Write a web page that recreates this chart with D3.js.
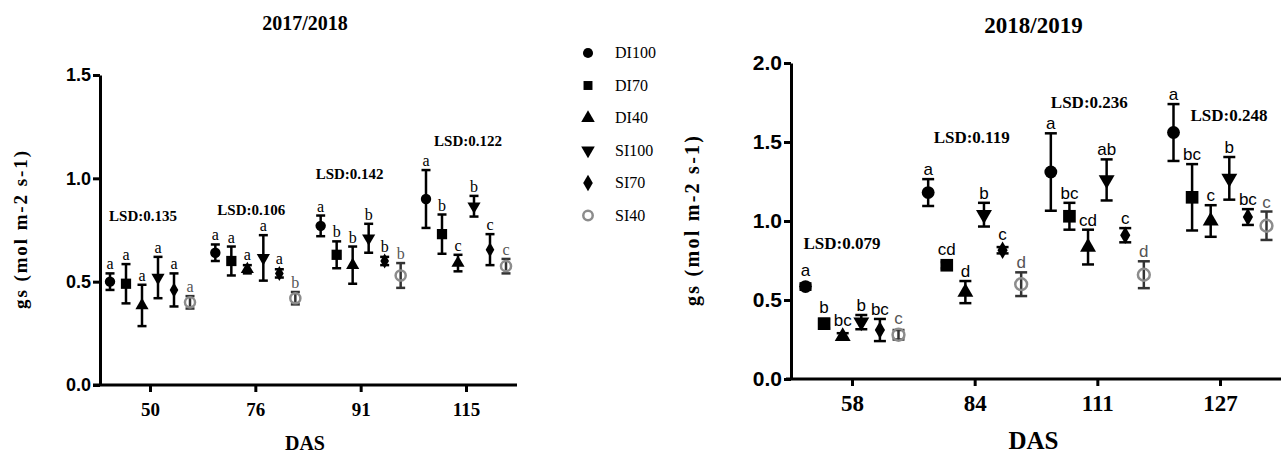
<!DOCTYPE html>
<html>
<head>
<meta charset="utf-8">
<script src="https://cdn.jsdelivr.net/npm/d3@7"></script>
<style>
  body { margin: 0; background: #fff; }
  .serif { font-family: "Liberation Serif", "Times New Roman", serif; font-weight: bold; }
  .ytick text { font-family: "Liberation Sans", Arial, sans-serif; font-weight: bold; }
</style>
</head>
<body>
<div class="container"></div>
<script>
// treatments (legend order)
const treatments = ["DI100", "DI70", "DI40", "SI100", "SI70", "SI40"];

// 2017/2018 season
const das1 = ["50", "76", "91", "115"];
const mean1 = [
  [0.50, 0.64, 0.77, 0.90],   // DI100
  [0.49, 0.60, 0.63, 0.73],   // DI70
  [0.385, 0.56, 0.58, 0.59],  // DI40
  [0.52, 0.615, 0.71, 0.865], // SI100
  [0.46, 0.54, 0.60, 0.655],  // SI70
  [0.40, 0.42, 0.53, 0.575]   // SI40
];
const err1 = [
  [0.04, 0.04, 0.05, 0.14],
  [0.095, 0.07, 0.065, 0.095],
  [0.10, 0.02, 0.09, 0.04],
  [0.10, 0.11, 0.07, 0.05],
  [0.08, 0.02, 0.02, 0.075],
  [0.03, 0.03, 0.06, 0.035]
];
const letters1 = [
  ["a", "a", "a", "a"],
  ["a", "a", "b", "b"],
  ["a", "a", "b", "c"],
  ["a", "a", "b", "b"],
  ["a", "a", "b", "c"],
  ["a", "b", "b", "c"]
];
const lsd1 = ["0.135", "0.106", "0.142", "0.122"];
const yTicks1 = [0.0, 0.5, 1.0, 1.5];

// 2018/2019 season
const das2 = ["58", "84", "111", "127"];
const mean2 = [
  [0.585, 1.18, 1.31, 1.56],
  [0.35, 0.72, 1.03, 1.15],
  [0.27, 0.55, 0.835, 1.00],
  [0.36, 1.04, 1.26, 1.27],
  [0.31, 0.815, 0.91, 1.025],
  [0.28, 0.60, 0.66, 0.97]
];
const err2 = [
  [0.02, 0.085, 0.245, 0.18],
  [0.03, 0.02, 0.085, 0.21],
  [0.02, 0.07, 0.11, 0.10],
  [0.045, 0.075, 0.13, 0.135],
  [0.07, 0.02, 0.045, 0.05],
  [0.03, 0.075, 0.085, 0.09]
];
const letters2 = [
  ["a", "a", "a", "a"],
  ["b", "cd", "bc", "bc"],
  ["bc", "d", "cd", "c"],
  ["b", "b", "ab", "b"],
  ["bc", "c", "c", "bc"],
  ["c", "d", "d", "c"]
];
const lsd2 = ["0.079", "0.119", "0.236", "0.248"];
const yTicks2 = [0.0, 0.5, 1.0, 1.5, 2.0];

const svgWidth = 1286, svgHeight = 457;

const svg = d3.select(".container")
  .append("svg")
  .attr("width", svgWidth)
  .attr("height", svgHeight)
  .style("background", "#fff");

// marker shapes per treatment
function markerPath(i, size) {
  const types = [d3.symbolCircle, d3.symbolSquare, d3.symbolTriangle,
                 d3.symbolTriangle, d3.symbolDiamond, d3.symbolCircle];
  return d3.symbol().type(types[i]).size(size)();
}
function markerStyle(sel, i) {
  if (i === 5) {
    sel.attr("fill", "none").attr("stroke", "#8c8c8c").attr("stroke-width", 2.5);
  } else {
    sel.attr("fill", "#000");
  }
  if (i === 3) sel.attr("transform", (sel.attr("transform") || "") + " rotate(180)");
}

function drawPanel(p) {
  const g = svg.append("g");

  const x = d3.scalePoint().domain(p.das).range(p.xRange);
  const y = d3.scaleLinear().domain([0, p.yMax]).range(p.yRange);

  // y axis
  const yAxis = g.append("g")
    .attr("class", "ytick")
    .attr("transform", `translate(${p.axisX},0)`)
    .call(d3.axisLeft(y).tickValues(p.yTicks).tickFormat(d3.format(".1f"))
      .tickSize(7).tickSizeOuter(0).tickPadding(2));
  yAxis.selectAll("text").attr("font-size", p.yTickFont).attr("fill", "#000");
  yAxis.selectAll("line, path").attr("stroke", "#000").attr("stroke-width", 3);

  // x axis
  const xAxis = g.append("g")
    .attr("transform", `translate(0,${p.yRange[0]})`)
    .call(d3.axisBottom(x).tickSize(7).tickSizeOuter(0).tickPadding(p.xTickPad));
  xAxis.select(".domain").attr("d", `M${p.xLine[0]},0H${p.xLine[1]}`);
  xAxis.selectAll("line, path").attr("stroke", "#000").attr("stroke-width", 3);
  xAxis.selectAll("text").attr("class", "serif").attr("font-size", p.xTickFont).attr("fill", "#000");

  // titles
  g.append("text").attr("class", "serif")
    .attr("x", (p.xLine[0] + p.xLine[1]) / 2).attr("y", p.titleY)
    .attr("text-anchor", "middle").attr("font-size", p.titleFont)
    .text(p.title);
  g.append("text").attr("class", "serif")
    .attr("x", (p.xLine[0] + p.xLine[1]) / 2).attr("y", p.dasY)
    .attr("text-anchor", "middle").attr("font-size", p.dasFont)
    .text("DAS");
  g.append("text").attr("class", "serif")
    .attr("transform", `translate(${p.ylabX},${(p.yRange[0] + p.yRange[1]) / 2}) rotate(-90)`)
    .attr("text-anchor", "middle").attr("font-size", p.ylabFont)
    .attr("textLength", p.ylabLen).attr("lengthAdjust", "spacing")
    .text("gs (mol m-2 s-1)");

  // points
  treatments.forEach((t, i) => {
    const off = (i - 2.5) * p.step;
    p.das.forEach((d, j) => {
      const cx = x(d) + off;
      const m = p.mean[i][j], e = p.err[i][j];
      const col = i === 5 ? "#333" : "#000";
      const bar = g.append("g").attr("stroke", col).attr("stroke-width", 2.5);
      bar.append("line").attr("x1", cx).attr("x2", cx).attr("y1", y(m - e)).attr("y2", y(m + e));
      [m - e, m + e].forEach(v => {
        bar.append("line").attr("x1", cx - p.cap / 2).attr("x2", cx + p.cap / 2)
          .attr("y1", y(v)).attr("y2", y(v));
      });
      const mk = g.append("path")
        .attr("d", markerPath(i, p.markSize[i]))
        .attr("transform", `translate(${cx},${y(m)})`);
      markerStyle(mk, i);

      const top = Math.min(y(m + e), y(m) - p.markR);
      g.append("text")
        .attr("x", cx).attr("y", top - 4)
        .attr("text-anchor", "middle")
        .attr("font-family", p.letterFont)
        .attr("font-size", p.letterSize)
        .attr("fill", i === 5 ? "#555" : "#000")
        .text(p.letters[i][j]);
    });
  });

  // LSD labels
  p.das.forEach((d, j) => {
    g.append("text").attr("class", "serif")
      .attr("x", x(d) + p.lsdDx[j]).attr("y", y(p.lsdY[j]))
      .attr("dy", "0.35em")
      .attr("text-anchor", "middle").attr("font-size", p.lsdFont)
      .text("LSD:" + p.lsd[j]);
  });
}

drawPanel({
  title: "2017/2018", das: das1, mean: mean1, err: err1, letters: letters1, lsd: lsd1,
  yTicks: yTicks1, yMax: 1.5,
  xRange: [150, 466], yRange: [385, 75], axisX: 100, xLine: [93, 517],
  step: 16, cap: 9, markSize: [85, 105, 75, 75, 65, 80], markR: 5,
  yTickFont: 18, xTickFont: 19, xTickPad: 11, titleFont: 20, titleY: 30,
  dasFont: 20, dasY: 450, ylabX: 27, ylabFont: 19, ylabLen: 158,
  letterFont: "Liberation Serif, serif", letterSize: 16,
  lsdFont: 15, lsdY: [0.82, 0.85, 1.02, 1.18], lsdDx: [-7, -4, -11, 2]
});

drawPanel({
  title: "2018/2019", das: das2, mean: mean2, err: err2, letters: letters2, lsd: lsd2,
  yTicks: yTicks2, yMax: 2.0,
  xRange: [852, 1220], yRange: [379, 63], axisX: 791, xLine: [786, 1281],
  step: 18.6, cap: 12, markSize: [130, 160, 110, 110, 90, 110], markR: 6.5,
  yTickFont: 21, xTickFont: 23, xTickPad: 9, titleFont: 23, titleY: 33,
  dasFont: 25, dasY: 449, ylabX: 699, ylabFont: 20, ylabLen: 170,
  letterFont: "Liberation Sans, Arial, sans-serif", letterSize: 17,
  lsdFont: 17, lsdY: [0.86, 1.53, 1.755, 1.67], lsdDx: [-10, -3, -8, 9]
});

// legend
const legend = svg.append("g").attr("transform", "translate(588,53)");
treatments.forEach((t, i) => {
  const row = legend.append("g").attr("transform", `translate(0,${i * 32.5})`);
  const mk = row.append("path").attr("d", markerPath(i, i === 5 ? 70 : 80))
    .attr("transform", "translate(0,0)");
  markerStyle(mk, i);
  row.append("text")
    .attr("x", 27).attr("y", 5)
    .attr("font-family", "Liberation Serif, serif")
    .attr("font-size", 16)
    .text(t);
});
</script>
</body>
</html>
